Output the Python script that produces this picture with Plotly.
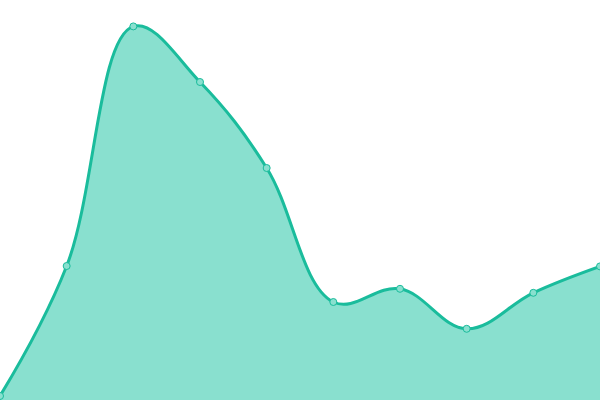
import plotly.graph_objects as go

# Data (y in 0-100 units, bottom of chart = 0)
x_vals = [0, 1, 2, 3, 4, 5, 6, 7, 8, 9]
y_vals = [1, 33.5, 93.4, 79.5, 58, 24.5, 27.8, 17.8, 26.8, 33.4]

line_color = "#1abc9c"
fill_color = "#89e0cf"

fig = go.Figure()

fig.add_trace(
    go.Scatter(
        x=x_vals,
        y=y_vals,
        mode="lines+markers",
        line=dict(color=line_color, width=3, shape="spline", smoothing=1.1),
        fill="tozeroy",
        fillcolor=fill_color,
        marker=dict(size=7, color=fill_color, line=dict(color=line_color, width=1)),
        hoverinfo="skip",
    )
)

fig.update_layout(
    width=600,
    height=400,
    margin=dict(l=0, r=0, t=0, b=0),
    paper_bgcolor="white",
    plot_bgcolor="white",
    showlegend=False,
    xaxis=dict(range=[0, 9], visible=False, fixedrange=True),
    yaxis=dict(range=[0, 100], visible=False, fixedrange=True),
)

# drop the browser's default body margin so the chart sits flush in the window
fig.write_html(
    "out.html",
    config=dict(displayModeBar=False),
    post_script="document.body.style.margin='0';",
)
